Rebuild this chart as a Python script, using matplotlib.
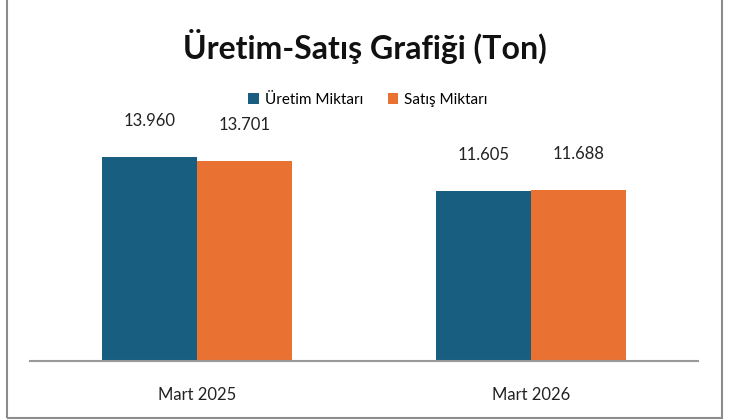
import matplotlib
matplotlib.use("Agg")
import matplotlib.pyplot as plt
from matplotlib.patches import Rectangle
import numpy as np

categories = ["Mart 2025", "Mart 2026"]
uretim = [13960, 11605]
satis = [13701, 11688]
series_names = ["Üretim Miktarı", "Satış Miktarı"]
title = "Üretim-Satış Grafiği (Ton)"

c_blue = "#175E80"
c_orange = "#E97132"

plt.rcParams['font.family'] = ['Lato', 'DejaVu Sans']

W, H = 740, 420
fig = plt.figure(figsize=(7.4, 4.2), dpi=100)
ax = fig.add_axes([30 / W, (H - 361) / H, 668 / W, 234 / H])

x = np.arange(len(categories))
w = 0.284
b1 = ax.bar(x - w / 2, uretim, w, color=c_blue, label=series_names[0])
b2 = ax.bar(x + w / 2, satis, w, color=c_orange, label=series_names[1])

def fmt(v):
    return f"{v:,}".replace(",", ".")

for bars, vals in ((b1, uretim), (b2, satis)):
    for r, v in zip(bars, vals):
        ax.annotate(fmt(v), (r.get_x() + r.get_width() / 2, v), xytext=(0, 20),
                    textcoords="offset points", ha="center", va="bottom",
                    fontsize=12, color="#222222")

ax.set_xlim(-0.5, 1.5)
ax.set_ylim(0, 16000)
ax.set_yticks([])
ax.set_xticks(x)
ax.set_xticklabels(categories, fontsize=12, color="#222222")
ax.tick_params(axis="x", length=0, pad=19)
for s in ("top", "right", "left"):
    ax.spines[s].set_visible(False)
ax.spines["bottom"].set_color("#999999")
ax.spines["bottom"].set_linewidth(1.5)

fig.text(365 / W, 1 - 46 / H, title, ha="center", va="center",
         fontsize=23, fontweight="bold", color="#111111")

fig.legend(handles=[b1, b2], loc="center", bbox_to_anchor=(368 / W, 1 - 100 / H),
           ncol=2, frameon=False, fontsize=11, handlelength=0.7, handleheight=0.7,
           handletextpad=0.4, columnspacing=1.6)

fig.add_artist(Rectangle((7 / W, 2 / H), 715 / W, 1.5, transform=fig.transFigure,
                         fill=False, edgecolor="#8c8c8c", linewidth=1.5))

fig.savefig("out.png", dpi=100)
